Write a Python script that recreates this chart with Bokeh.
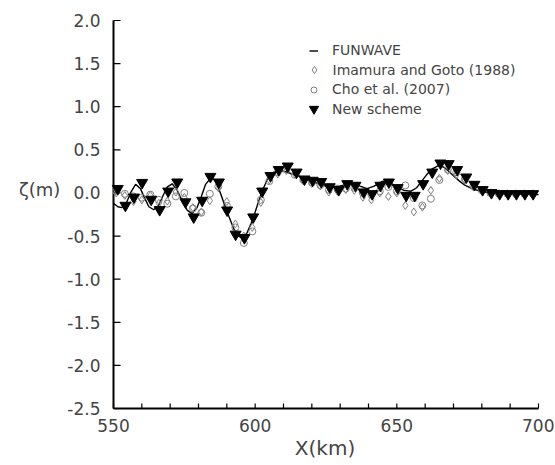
from bokeh.plotting import figure
from bokeh.models import Range1d, FixedTicker, PrintfTickFormatter, Legend, LegendItem
from bokeh.embed import file_html
from bokeh.resources import INLINE

# FUNWAVE (solid line)
fw_x = [550, 551.5, 553, 554.5, 556, 557.8, 559.5, 561, 562.5, 564.2, 566, 567.5, 569, 570.7, 572.5,
        574, 576, 577.7, 579.5, 581, 582.5, 584.5, 586, 587.5, 589, 590.7, 592.5, 594, 595.4, 597,
        598.5, 600, 601.5, 603, 604.5, 606.5, 608.5, 610.5, 613, 616, 619, 622, 625, 627.5, 630,
        632.5, 635, 637, 639.5, 642, 644.5, 646, 648, 650, 652.5, 655, 657, 658.5, 660.5, 662.5,
        664.8, 666.5, 668, 670, 672, 674, 676.5, 679.5, 683, 688, 694, 700]
fw_y = [-0.12, -0.16, -0.17, -0.12, 0.0, 0.1, 0.05, -0.06, -0.16, -0.195, -0.14, -0.03, 0.07, 0.106, 0.03,
        -0.08, -0.2, -0.24, -0.17, -0.04, 0.1, 0.18, 0.14, 0.02, -0.12, -0.27, -0.42, -0.5, -0.52, -0.47,
        -0.36, -0.22, -0.07, 0.06, 0.17, 0.24, 0.26, 0.25, 0.22, 0.19, 0.15, 0.11, 0.08, 0.065, 0.08,
        0.1, 0.105, 0.08, 0.05, 0.08, 0.13, 0.14, 0.11, 0.07, 0.03, 0.02, 0.06, 0.125, 0.21, 0.28,
        0.32, 0.3, 0.26, 0.2, 0.14, 0.09, 0.05, 0.02, 0.0, -0.01, -0.015, -0.02]

# Observation / comparison series
obs_x = [551, 554, 557, 560, 563, 566, 569, 572, 575, 578, 581, 584, 587, 590, 593, 596, 599, 602, 605, 608,
         611, 614, 617, 620, 623, 626, 629, 632, 635, 638, 641, 644, 647, 650, 653, 656, 659, 662, 665, 668,
         671, 674, 677, 680, 683, 686, 689, 692, 695, 698]
imamura_y = [0.0, -0.03, -0.1, -0.08, -0.03, -0.12, -0.095, 0.01, -0.05, -0.17, -0.22, -0.09, 0.06, -0.1, -0.36,
             -0.5, -0.4, -0.11, 0.15, 0.22, 0.26, 0.22, 0.14, 0.11, 0.08, 0.01, 0.02, 0.04, 0.03, -0.05,
             -0.08, 0.0, -0.04, 0.0, -0.145, -0.22, -0.165, 0.03, 0.17, 0.26, 0.21, 0.15, 0.07, 0.02, 0.0,
             -0.01, -0.01, -0.01, -0.01, -0.01]
cho_y = [0.02, -0.01, -0.04, -0.055, -0.02, -0.08, -0.125, -0.04, 0.0, -0.18, -0.23, -0.01, 0.075, -0.15, -0.4,
         -0.58, -0.445, -0.08, 0.137, 0.24, 0.27, 0.21, 0.15, 0.12, 0.09, 0.037, 0.05, 0.05, 0.06, 0.0,
         -0.02, 0.02, 0.07, 0.02, 0.087, -0.06, -0.145, -0.067, 0.15, 0.27, 0.24, 0.16, 0.08, 0.03, 0.0,
         -0.01, -0.01, -0.01, -0.01, -0.01]

# New scheme (filled inverted triangles)
ns_x = [551.5, 554.2, 557.2, 560.1, 563.3, 566.3, 569.3, 572.5, 575.4, 578.3, 581.3, 584.2, 587.2, 590.1,
        593.1, 596.2, 599.3, 602.5, 605.4, 608.3, 611.5, 614.6, 617.4, 620.3, 623.3, 626.3, 629.5, 632.5,
        635.4, 638.3, 641.3, 644.2, 647.2, 650.3, 653.3, 656.3, 659.3, 662.5, 665.4, 668.3, 671.3, 674.5,
        677.4, 680.3, 683.4, 686.3, 689.3, 692.2, 695.2, 698.1]
ns_y = [0.05, -0.145, -0.05, 0.12, -0.075, -0.195, 0.02, 0.125, -0.105, -0.28, -0.087, 0.19, 0.125, -0.2,
        -0.48, -0.52, -0.28, 0.02, 0.2, 0.27, 0.31, 0.24, 0.16, 0.145, 0.13, 0.07, 0.037, 0.106,
        0.087, 0.01, -0.01, 0.087, 0.125, 0.06, -0.03, -0.03, 0.106, 0.24, 0.345, 0.338, 0.27, 0.183,
        0.098, 0.037, 0.002, -0.01, -0.01, -0.01, -0.01, -0.01]

x_major = [550, 600, 650, 700]
x_minor = [560, 570, 580, 590, 610, 620, 630, 640, 660, 670, 680, 690]
y_major = [-2.5, -2.0, -1.5, -1.0, -0.5, 0.0, 0.5, 1.0, 1.5, 2.0]

FONT = "DejaVu Sans"

# pixel scale of the drawing area
PX_X = 425 / (x_major[-1] - x_major[0])     # px per km
PX_Y = 388 / (y_major[-1] - y_major[0])     # px per m
PAD_L, PAD_R, PAD_B, PAD_T = 3, 1, 3, 2      # small frame padding (px) so drawn axes are not clipped

p = figure(frame_width=425 + PAD_L + PAD_R, frame_height=388 + PAD_B + PAD_T,
           output_backend="svg", toolbar_location=None,
           x_range=Range1d(x_major[0] - PAD_L / PX_X, x_major[-1] + PAD_R / PX_X),
           y_range=Range1d(y_major[0] - PAD_B / PX_Y, y_major[-1] + PAD_T / PX_Y),
           min_border_left=113 - PAD_L, min_border_top=20 - PAD_T, min_border_right=15,
           min_border_bottom=40)
p.outline_line_color = None
p.xgrid.visible = False
p.ygrid.visible = False
p.background_fill_color = None
p.border_fill_color = None

xa = p.xaxis[0]
xa.ticker = FixedTicker(ticks=x_major, minor_ticks=x_minor)
xa.axis_line_color = None
xa.major_tick_line_color = None
xa.minor_tick_line_color = None
xa.major_tick_in = 0
xa.major_tick_out = 0
xa.minor_tick_in = 0
xa.minor_tick_out = 0
xa.major_label_text_font = FONT
xa.major_label_text_font_size = "17px"
xa.major_label_standoff = 7
xa.axis_label = "X(km)"
xa.axis_label_text_font = FONT
xa.axis_label_text_font_size = "20px"
xa.axis_label_text_font_style = "normal"
xa.axis_label_standoff = 1

ya = p.yaxis[0]
ya.ticker = FixedTicker(ticks=y_major, minor_ticks=[])
ya.formatter = PrintfTickFormatter(format="%.1f")
ya.axis_line_color = None
ya.major_tick_line_color = None
ya.minor_tick_line_color = None
ya.major_tick_in = 0
ya.major_tick_out = 0
ya.minor_tick_in = 0
ya.minor_tick_out = 0
ya.major_label_text_font = FONT
ya.major_label_text_font_size = "17px"
ya.major_label_standoff = 10
# horizontal y label, lifted to the level of 0.0 by trailing blank lines
ya.axis_label = "ζ(m)\n \n "
ya.axis_label_orientation = "horizontal"
ya.axis_label_text_font = FONT
ya.axis_label_text_font_size = "18px"
ya.axis_label_text_font_style = "normal"
ya.axis_label_standoff = 4

# axis lines and inward tick marks, drawn from the tick arrays
x0, x1 = x_major[0], x_major[-1]
y0, y1 = y_major[0], y_major[-1]
p.segment(x0=[x0, x0], y0=[y0, y0], x1=[x1, x0], y1=[y0, y1], line_color="black", line_width=2)
x_all_ticks = sorted(x_major + x_minor)
p.segment(x0=x_all_ticks, y0=[y0] * len(x_all_ticks), x1=x_all_ticks,
          y1=[y0 + 5 / PX_Y] * len(x_all_ticks), line_color="black", line_width=1.2)
p.segment(x0=[x0] * len(y_major), y0=y_major, x1=[x0 + 7 / PX_X] * len(y_major), y1=y_major,
          line_color="black", line_width=1.2)

r_fw = p.line(fw_x, fw_y, line_color="black", line_width=1.4)
r_im = p.scatter(obs_x, imamura_y, marker="diamond", size=8, line_color="#808080",
                 fill_alpha=0, line_width=1)
r_cho = p.scatter(obs_x, cho_y, marker="circle", size=7, line_color="#808080",
                  fill_alpha=0, line_width=1)
r_ns = p.scatter(ns_x, ns_y, marker="inverted_triangle", size=11, line_color="black",
                 fill_color="black")

# Legends: one per row so each glyph can have its own size
FL, FB = 113 - PAD_L, 408 + PAD_B   # page coords of frame left / bottom
rows = [(r_fw, "FUNWAVE", 9, 19, 50),
        (r_im, "Imamura and Goto (1988)", 18, 19, 69.5),
        (r_cho, "Cho et al. (2007)", 15, 19, 89),
        (r_ns, "New scheme", 23, 23, 108.5)]
for rend, lab, gw, gh, yc in rows:
    left = 313.5 - gw / 2
    leg = Legend(items=[LegendItem(label=lab, renderers=[rend])],
                 location=(left - FL, FB - (yc + gh / 2)),
                 glyph_width=gw, glyph_height=gh, label_height=gh,
                 label_standoff=int(round(332 - 313.5 - gw / 2)),
                 padding=0, margin=0, spacing=0,
                 border_line_color=None, background_fill_alpha=0,
                 label_text_font=FONT, label_text_font_size="14px",
                 label_text_baseline="middle")
    p.add_layout(leg)

open("out.html", "w").write(file_html(p, INLINE))
